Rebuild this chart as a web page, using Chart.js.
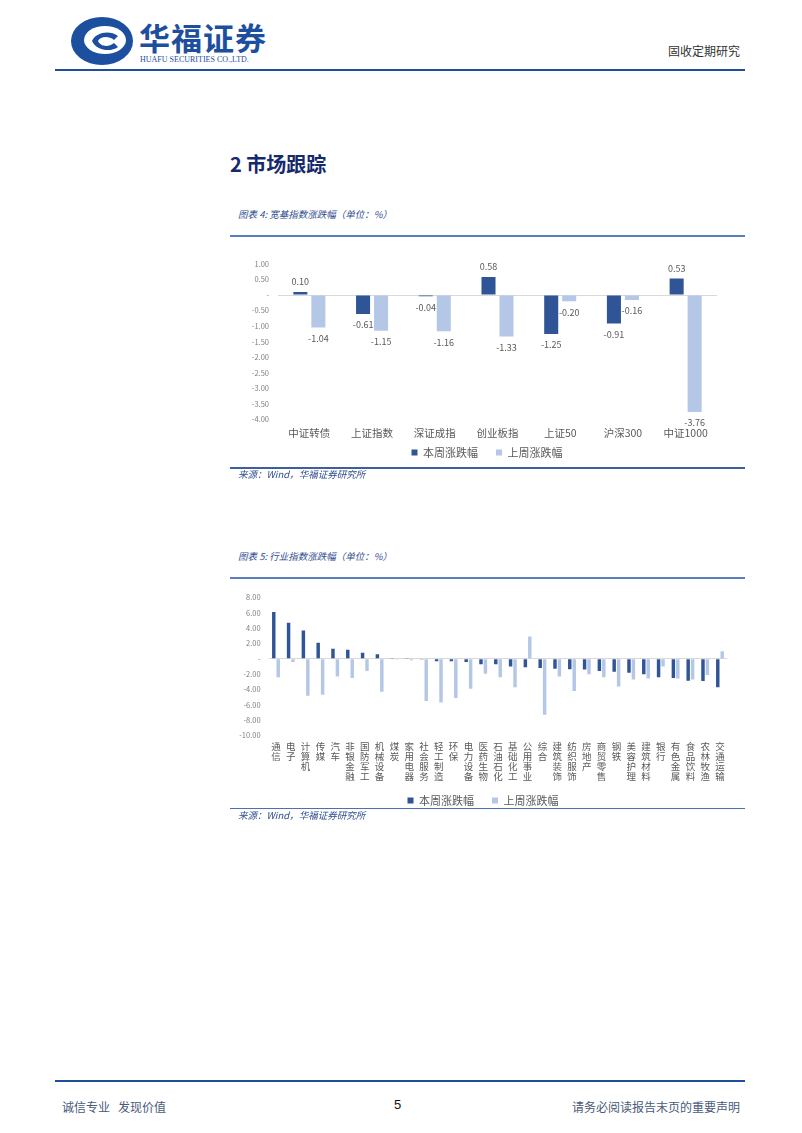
<!DOCTYPE html>
<html>
<head>
<meta charset="utf-8">
<script src="https://cdn.jsdelivr.net/npm/chart.js@4/dist/chart.umd.min.js"></script>
<style>
  html, body { margin: 0; padding: 0; background: #fff; }
  #page { position: relative; width: 802px; height: 1133px; overflow: hidden; font-family: "Noto Sans CJK SC", sans-serif; }
  .abs { position: absolute; white-space: nowrap; }
  .hline { position: absolute; }
  .cap { font-style: italic; color: #2f4d8f; font-size: 9.5px; }
  canvas { position: absolute; }
</style>
</head>
<body>
<div id="page">
  <!-- header -->
  <svg class="abs" style="left:70px;top:16px" width="66" height="50" viewBox="0 0 66 50">
    <ellipse cx="32" cy="25" rx="31" ry="24" fill="#1d4f9f"/>
    <ellipse cx="35" cy="24" rx="21" ry="14" fill="#fff"/>
    <path d="M22 25 C26 16 40 14 48 20 L44 24 C38 19 30 21 28 25 C30 30 38 32 44 27 L48 31 C40 37 26 34 22 25 Z" fill="#1d4f9f"/>
  </svg>
  <div class="abs" style="left:139px;top:14px;font-size:31px;font-weight:700;color:#1d4f9f;letter-spacing:1px;">华福证券</div>
  <div class="abs" style="left:140px;top:55px;font-size:8px;color:#1d4f9f;font-family:'Liberation Serif',serif;">HUAFU SECURITIES CO.,LTD.</div>
  <div class="abs" style="left:668px;top:42px;font-size:12px;color:#333;">固收定期研究</div>
  <div class="hline" style="left:55px;top:69px;width:690px;height:2px;background:#1f4e9a;"></div>

  <div class="abs" style="left:230px;top:149px;font-size:20px;font-weight:700;color:#15296b;">2 市场跟踪</div>

  <!-- chart 4 -->
  <div class="abs cap" style="left:238px;top:207px;">图表 4: 宽基指数涨跌幅（单位：%）</div>
  <div class="hline" style="left:230px;top:235px;width:515px;height:2px;background:#5a7fc0;"></div>
  <canvas id="c1" width="515" height="218" style="left:230px;top:250px;"></canvas>
  <div class="hline" style="left:230px;top:467px;width:515px;height:2px;background:#3e5f9f;"></div>
  <div class="abs cap" style="left:238px;top:467px;">来源：Wind，华福证券研究所</div>

  <!-- chart 5 -->
  <div class="abs cap" style="left:238px;top:549px;">图表 5: 行业指数涨跌幅（单位：%）</div>
  <div class="hline" style="left:230px;top:577px;width:515px;height:2px;background:#5a7fc0;"></div>
  <canvas id="c2" width="515" height="231" style="left:230px;top:585px;"></canvas>
  <div class="hline" style="left:230px;top:808px;width:515px;height:1px;background:#4a70b8;"></div>
  <div class="abs cap" style="left:238px;top:808px;">来源：Wind，华福证券研究所</div>

  <!-- footer -->
  <div class="hline" style="left:55px;top:1080px;width:690px;height:1.5px;background:#1f4e9a;"></div>
  <div class="abs" style="left:62px;top:1098px;font-size:12px;color:#4a5a7a;">诚信专业&nbsp;&nbsp;&nbsp;发现价值</div>
  <div class="abs" style="left:394px;top:1097px;font-size:13px;color:#111;font-family:'Liberation Sans',sans-serif;">5</div>
  <div class="abs" style="left:572px;top:1098px;font-size:12px;color:#4a5a7a;">请务必阅读报告末页的重要声明</div>
</div>

<script>
// 图表4 宽基指数
const indexNames = ['中证转债', '上证指数', '深证成指', '创业板指', '上证50', '沪深300', '中证1000'];
const indexThisWeek = [0.10, -0.61, -0.04, 0.58, -1.25, -0.91, 0.53];
const indexLastWeek = [-1.04, -1.15, -1.16, -1.33, -0.20, -0.16, -3.76];

// 图表5 行业指数
const industryNames = ['通信', '电子', '计算机', '传媒', '汽车', '非银金融', '国防军工', '机械设备', '煤炭', '家用电器',
  '社会服务', '轻工制造', '环保', '电力设备', '医药生物', '石油石化', '基础化工', '公用事业', '综合', '建筑装饰',
  '纺织服饰', '房地产', '商贸零售', '钢铁', '美容护理', '建筑材料', '银行', '有色金属', '食品饮料', '农林牧渔', '交通运输'];
const industryThisWeek = [6.1, 4.7, 3.7, 2.1, 1.3, 1.2, 0.8, 0.6, 0.1, 0.1,
  -0.1, -0.3, -0.3, -0.4, -0.7, -0.7, -1.0, -1.1, -1.2, -1.3,
  -1.35, -1.4, -1.6, -1.7, -1.8, -2.0, -2.4, -2.5, -2.85, -2.9, -3.7];
const industryLastWeek = [-2.4, -0.4, -4.8, -4.7, -2.3, -2.5, -1.6, -4.3, -0.1, -0.2,
  -5.5, -5.7, -5.1, -3.9, -1.95, -2.4, -3.7, 2.9, -7.3, -2.3,
  -4.2, -2.0, -2.4, -3.6, -2.7, -2.55, -1.0, -2.55, -2.7, -2.1, 1.0];

const seriesNames = ['本周涨跌幅', '上周涨跌幅'];
const darkBlue = '#2f5597';
const lightBlue = '#b4c7e7';

Chart.defaults.font.family = '"Noto Sans CJK SC", sans-serif';
Chart.defaults.color = '#595959';

function tickText(v) {
  return Math.abs(v) < 1e-9 ? '-' : v.toFixed(2);
}
function zeroLine(ctx) {
  return ctx.tick && Math.abs(ctx.tick.value) < 1e-9 ? '#d9d9d9' : 'rgba(0,0,0,0)';
}

// 柱子上的数值
const barLabels = {
  id: 'barLabels',
  afterDatasetsDraw(chart) {
    const ctx = chart.ctx;
    ctx.save();
    ctx.font = '9px "Noto Sans CJK SC", sans-serif';
    ctx.fillStyle = '#595959';
    ctx.textAlign = 'center';
    ctx.textBaseline = 'middle';
    chart.data.datasets.forEach((ds, i) => {
      chart.getDatasetMeta(i).data.forEach((bar, j) => {
        const v = ds.data[j];
        ctx.fillText(v.toFixed(2), bar.x, v >= 0 ? bar.y - 10 : bar.y + 11);
      });
    });
    ctx.restore();
  }
};

// 图例贴得比较近，坐标轴标签不要被裁掉
const unclip = {
  id: 'unclip',
  afterLayout(chart) {
    chart.scales.x.bottom = chart.height;
    chart.scales.y.left = 0;
  }
};

const legendOpts = {
  position: 'bottom',
  labels: { boxWidth: 6, boxHeight: 6, padding: 18, color: '#595959', font: { size: 11 } }
};

new Chart(document.getElementById('c1').getContext('2d'), {
  type: 'bar',
  data: {
    labels: indexNames,
    datasets: [
      { label: seriesNames[0], data: indexThisWeek, backgroundColor: darkBlue },
      { label: seriesNames[1], data: indexLastWeek, backgroundColor: lightBlue }
    ]
  },
  options: {
    responsive: false,
    animation: false,
    categoryPercentage: 0.574,
    barPercentage: 0.78,
    layout: { padding: { top: 14, right: 28, left: 27, bottom: 0 } },
    plugins: { legend: legendOpts, tooltip: { enabled: false } },
    scales: {
      x: {
        grid: { display: false, drawTicks: false },
        border: { display: false },
        ticks: { padding: 7, color: '#595959', font: { size: 10.5 }, autoSkip: false, maxRotation: 0, minRotation: 0 },
        afterFit(s) { s.height = 9.5; }
      },
      y: {
        min: -4, max: 1,
        grid: { color: zeroLine, drawTicks: false },
        border: { display: false },
        ticks: { stepSize: 0.5, padding: 9, color: '#7f7f7f', font: { size: 7.5 }, callback: tickText },
        afterFit(s) { s.width = 21; }
      }
    }
  },
  plugins: [barLabels, unclip]
});

new Chart(document.getElementById('c2').getContext('2d'), {
  type: 'bar',
  data: {
    labels: industryNames.map(n => n.split('')),
    datasets: [
      { label: seriesNames[0], data: industryThisWeek, backgroundColor: darkBlue },
      { label: seriesNames[1], data: industryLastWeek, backgroundColor: lightBlue }
    ]
  },
  options: {
    responsive: false,
    animation: false,
    categoryPercentage: 0.6,
    barPercentage: 0.78,
    layout: { padding: { top: 11, right: 17.6, left: 8.6, bottom: 0 } },
    plugins: { legend: legendOpts, tooltip: { enabled: false } },
    scales: {
      x: {
        grid: { display: false, drawTicks: false },
        border: { display: false },
        ticks: { padding: 6, color: '#595959', font: { size: 9.5, lineHeight: 1.05 }, autoSkip: false, maxRotation: 0, minRotation: 0 },
        afterFit(s) { s.height = 41.5; }
      },
      y: {
        min: -10, max: 8,
        grid: { color: zeroLine, drawTicks: false },
        border: { display: false },
        ticks: { stepSize: 2, padding: 8, color: '#7f7f7f', font: { size: 7.5 }, callback: tickText },
        afterFit(s) { s.width = 30; }
      }
    }
  },
  plugins: [unclip]
});
</script>
</body>
</html>
